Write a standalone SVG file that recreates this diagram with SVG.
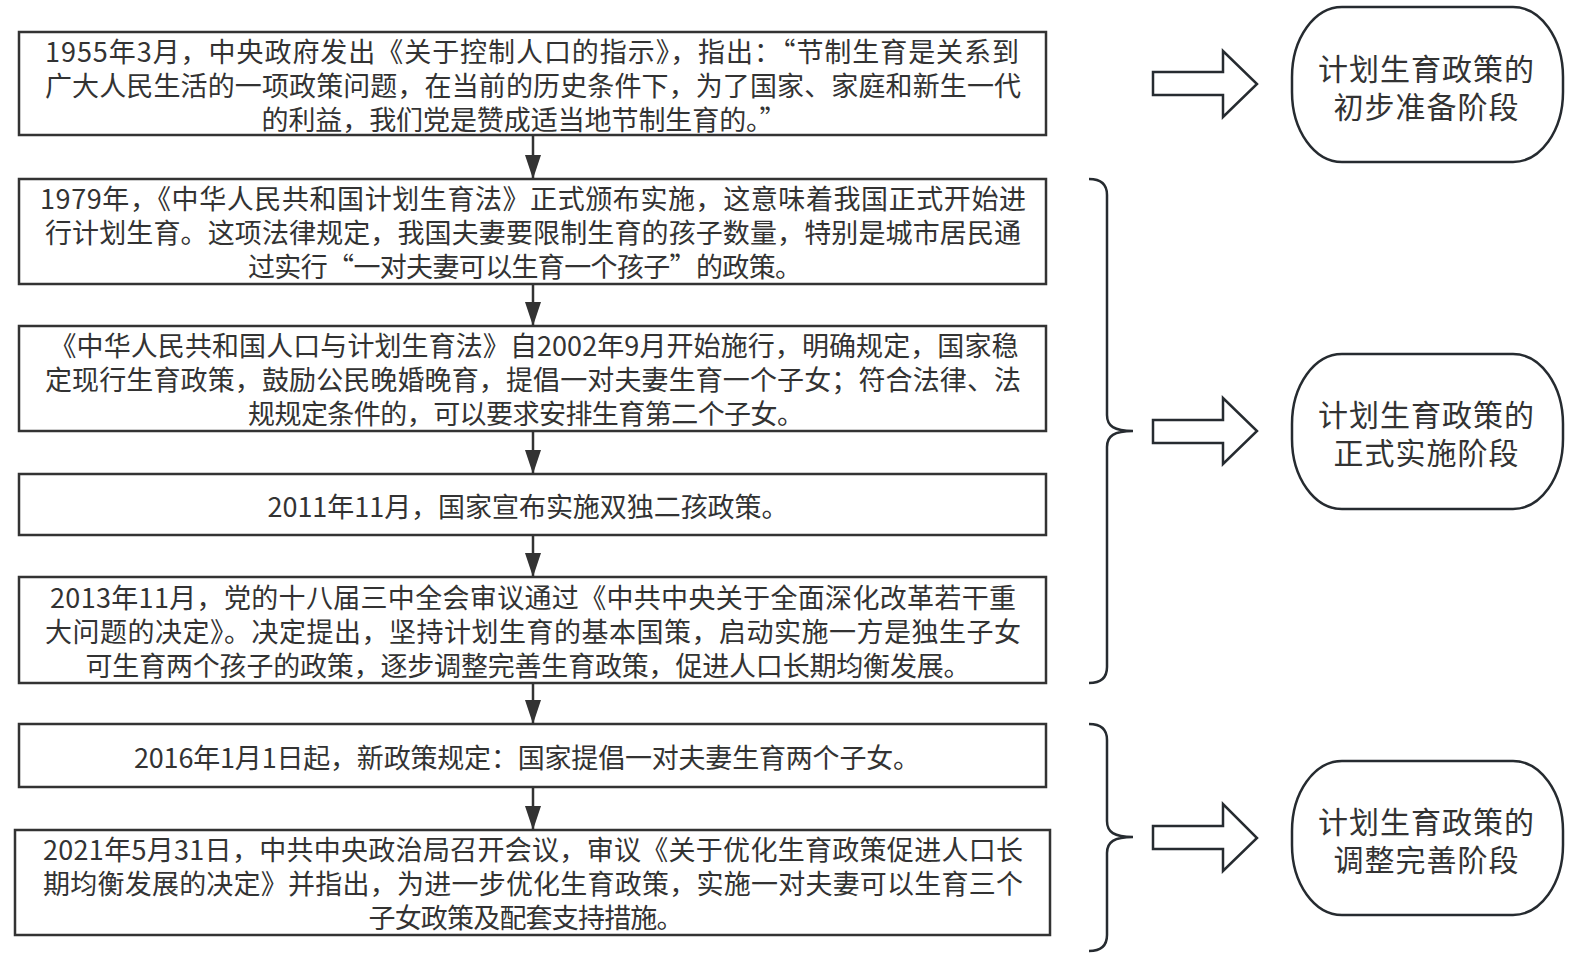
<svg xmlns="http://www.w3.org/2000/svg" width="1577" height="959" viewBox="0 0 1577 959">
<defs>
<style>
.box{fill:#fff;stroke:#333;stroke-width:2.5}
.stage{fill:#fff;stroke:#262b30;stroke-width:2.5}
.t{font-family:"Noto Sans CJK SC","Microsoft YaHei",sans-serif;font-size:27px;fill:#333;text-anchor:middle;dominant-baseline:central}
.st{font-family:"Noto Sans CJK SC","Microsoft YaHei",sans-serif;font-size:30px;fill:#333;text-anchor:middle;dominant-baseline:central}
.conn{stroke:#333;stroke-width:2.5;fill:none}
.brace{stroke:#262b30;stroke-width:2.5;fill:none}
.barrow{fill:#fff;stroke:#262b30;stroke-width:2.5;stroke-linejoin:miter}
</style>
<marker id="ah" viewBox="0 0 24 16" refX="24" refY="8" markerWidth="24" markerHeight="16" markerUnits="userSpaceOnUse" orient="auto">
<path d="M0,0 L24,8 L0,16 Z" fill="#333"/>
</marker>
</defs>
<rect width="1577" height="959" fill="#fff"/>

<g id="connectors">
<path class="conn" d="M533,135 V179" marker-end="url(#ah)"/>
<path class="conn" d="M533,284 V326" marker-end="url(#ah)"/>
<path class="conn" d="M533,431 V474" marker-end="url(#ah)"/>
<path class="conn" d="M533,535 V577" marker-end="url(#ah)"/>
<path class="conn" d="M533,683 V724" marker-end="url(#ah)"/>
<path class="conn" d="M533,787 V830" marker-end="url(#ah)"/>
</g>

<g id="node1">
<rect class="box" x="19" y="32" width="1027" height="103"/>
<text class="t" x="532" y="50" textLength="974" lengthAdjust="spacing">1955年3月，中央政府发出《关于控制人口的指示》，指出：“节制生育是关系到</text>
<text class="t" x="533" y="84" textLength="976" lengthAdjust="spacing">广大人民生活的一项政策问题，在当前的历史条件下，为了国家、家庭和新生一代</text>
<text class="t" x="524" y="118" textLength="525" lengthAdjust="spacing">的利益，我们党是赞成适当地节制生育的。”</text>
</g>
<g id="node2">
<rect class="box" x="19" y="179" width="1027" height="105"/>
<text class="t" x="533" y="197" textLength="986" lengthAdjust="spacing">1979年，《中华人民共和国计划生育法》正式颁布实施，这意味着我国正式开始进</text>
<text class="t" x="533" y="231" textLength="976" lengthAdjust="spacing">行计划生育。这项法律规定，我国夫妻要限制生育的孩子数量，特别是城市居民通</text>
<text class="t" x="525" y="265" textLength="554" lengthAdjust="spacing">过实行“一对夫妻可以生育一个孩子”的政策。</text>
</g>
<g id="node3">
<rect class="box" x="19" y="326" width="1027" height="105"/>
<text class="t" x="534" y="344" textLength="969" lengthAdjust="spacing">《中华人民共和国人口与计划生育法》自2002年9月开始施行，明确规定，国家稳</text>
<text class="t" x="533" y="378" textLength="976" lengthAdjust="spacing">定现行生育政策，鼓励公民晚婚晚育，提倡一对夫妻生育一个子女；符合法律、法</text>
<text class="t" x="526" y="412" textLength="556" lengthAdjust="spacing">规规定条件的，可以要求安排生育第二个子女。</text>
</g>
<g id="node4">
<rect class="box" x="19" y="474" width="1027" height="61"/>
<text class="t" x="528" y="505" textLength="521" lengthAdjust="spacing">2011年11月，国家宣布实施双独二孩政策。</text>
</g>
<g id="node5">
<rect class="box" x="19" y="577" width="1027" height="106"/>
<text class="t" x="533" y="596" textLength="966" lengthAdjust="spacing">2013年11月，党的十八届三中全会审议通过《中共中央关于全面深化改革若干重</text>
<text class="t" x="533" y="630" textLength="976" lengthAdjust="spacing">大问题的决定》。决定提出，坚持计划生育的基本国策，启动实施一方是独生子女</text>
<text class="t" x="528" y="664" textLength="885" lengthAdjust="spacing">可生育两个孩子的政策，逐步调整完善生育政策，促进人口长期均衡发展。</text>
</g>
<g id="node6">
<rect class="box" x="19" y="724" width="1027" height="63"/>
<text class="t" x="527" y="756" textLength="786" lengthAdjust="spacing">2016年1月1日起，新政策规定：国家提倡一对夫妻生育两个子女。</text>
</g>
<g id="node7">
<rect class="box" x="15" y="830" width="1035" height="105"/>
<text class="t" x="533" y="848" textLength="980" lengthAdjust="spacing">2021年5月31日，中共中央政治局召开会议，审议《关于优化生育政策促进人口长</text>
<text class="t" x="533" y="882" textLength="980" lengthAdjust="spacing">期均衡发展的决定》并指出，为进一步优化生育政策，实施一对夫妻可以生育三个</text>
<text class="t" x="526" y="916" textLength="315" lengthAdjust="spacing">子女政策及配套支持措施。</text>
</g>

<g id="braces">
<path class="brace" d="M1089,179 C1100,179 1107,183 1107,195 L1107,415 C1107,426 1114,431 1133,431 C1114,431 1107,436 1107,447 L1107,667 C1107,679 1100,683 1089,683"/>
<path class="brace" d="M1089,724 C1100,724 1107,728 1107,740 L1107,821 C1107,832 1114,837 1133,837 C1114,837 1107,842 1107,853 L1107,935 C1107,947 1100,951 1089,951"/>
</g>

<g id="arrow1"><polygon class="barrow" points="1153,72 1223,72 1223,51 1257,84 1223,117 1223,95 1153,95"/></g>
<g id="arrow2"><polygon class="barrow" points="1153,420 1223,420 1223,398 1257,431 1223,464 1223,443 1153,443"/></g>
<g id="arrow3"><polygon class="barrow" points="1153,826 1223,826 1223,804 1257,838 1223,871 1223,849 1153,849"/></g>

<g id="stage1">
<rect class="stage" x="1292" y="7" width="271" height="155" rx="50" ry="70"/>
<text class="st" x="1426" y="67" textLength="216" lengthAdjust="spacing">计划生育政策的</text>
<text class="st" x="1426" y="105" textLength="185" lengthAdjust="spacing">初步准备阶段</text>
</g>
<g id="stage2">
<rect class="stage" x="1292" y="354" width="271" height="155" rx="50" ry="70"/>
<text class="st" x="1426" y="413" textLength="216" lengthAdjust="spacing">计划生育政策的</text>
<text class="st" x="1426" y="451" textLength="185" lengthAdjust="spacing">正式实施阶段</text>
</g>
<g id="stage3">
<rect class="stage" x="1292" y="761" width="271" height="154" rx="50" ry="70"/>
<text class="st" x="1426" y="820" textLength="216" lengthAdjust="spacing">计划生育政策的</text>
<text class="st" x="1426" y="858" textLength="185" lengthAdjust="spacing">调整完善阶段</text>
</g>
</svg>
